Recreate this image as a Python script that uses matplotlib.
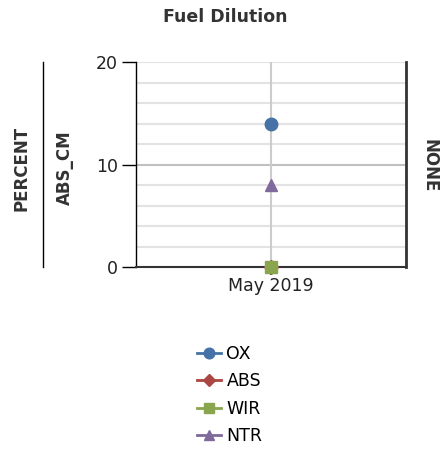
import matplotlib
matplotlib.use("Agg")
from matplotlib import pyplot as plt
from matplotlib.lines import Line2D

categories = ["May 2019"]
series_names = ["OX", "ABS", "WIR", "NTR"]
ox = [14]
abs_vals = [0]
wir = [0]
ntr = [8]
series_values = [ox, abs_vals, wir, ntr]
colors = ["#4572A7", "#AA4643", "#89A54E", "#80699B"]
markers = ["o", "D", "s", "^"]
sizes = [9, 7, 9, 9]

fig = plt.figure(figsize=(4.46, 4.49), dpi=100)
ax = fig.add_axes([136 / 446, 1 - 267 / 449, 270 / 446, 205 / 449])

x = list(range(len(categories)))
handles = []
for name, vals, c, m, s in zip(series_names, series_values, colors, markers, sizes):
    h, = ax.plot(x, vals, color=c, marker=m, markersize=s, linewidth=2,
                 label=name, zorder=3, clip_on=False)
    handles.append(h)

ax.set_xlim(-1, 1)
ax.set_ylim(0, 20)
ax.set_xticks(x)
ax.set_xticklabels(categories, fontsize=12.5, color="#222222")
ax.set_yticks([0, 10, 20])
ax.set_yticklabels(["0", "10", "20"], fontsize=12.5, color="#222222")

# grid lines
for yv in range(2, 21, 2):
    col = "#c0c0c0" if yv == 10 else "#e3e3e3"
    ax.axhline(yv, color=col, linewidth=1.5, zorder=1)
ax.axvline(0, color="#cccccc", linewidth=1.5, zorder=1)

ax.tick_params(axis="y", length=10, width=1, pad=3, color="black")
ax.tick_params(axis="x", length=6, width=1.5, pad=1, color="#333333")
ax.spines["top"].set_visible(False)
ax.spines["left"].set_linewidth(1)
ax.spines["bottom"].set_linewidth(1.5)
ax.spines["bottom"].set_color("#333333")
ax.spines["right"].set_linewidth(2)
ax.spines["right"].set_color("#333333")

fig.text(0.505, 1 - 17 / 449, "Fuel Dilution", ha="center", va="center",
         fontsize=12.5, fontweight="bold", color="#333333")
fig.text(22 / 446, 1 - 168 / 449, "PERCENT", rotation=90, ha="center",
         va="center", fontsize=12, fontweight="bold", color="#333333")
fig.text(65 / 446, 1 - 168 / 449, "ABS_CM", rotation=90, ha="center",
         va="center", fontsize=12, fontweight="bold", color="#333333")
fig.text(430 / 446, 1 - 166 / 449, "NONE", rotation=-90, ha="center",
         va="center", fontsize=12, fontweight="bold", color="#333333")
fig.add_artist(Line2D([43 / 446, 43 / 446], [1 - 62 / 449, 1 - 267 / 449],
                      color="black", linewidth=1))

fig.legend(handles=handles, loc="center", bbox_to_anchor=(0.515, 1 - 395 / 449),
           frameon=False, fontsize=12.5, handlelength=1.4, handletextpad=0.3,
           labelspacing=0.55, markerscale=0.85, borderpad=0.2)

fig.savefig("out.png", dpi=100)
